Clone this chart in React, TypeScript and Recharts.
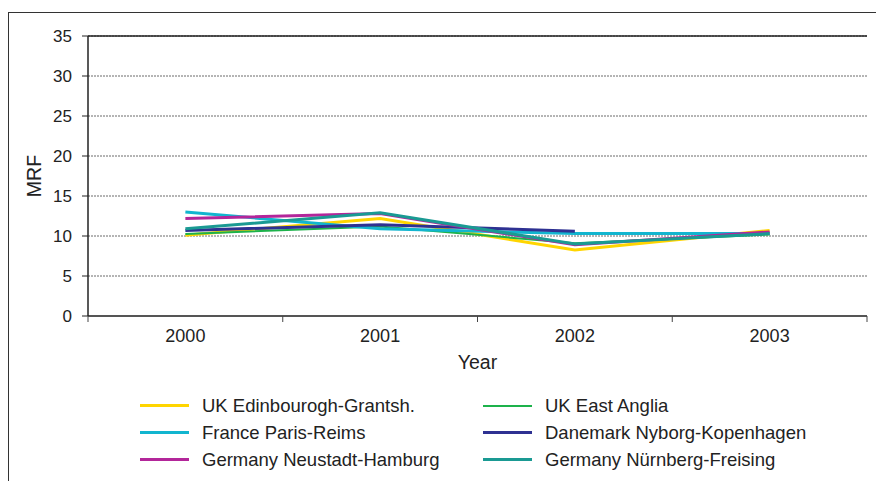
import React from 'react';
import { LineChart, Line, XAxis, YAxis, CartesianGrid, Legend, ReferenceLine } from 'recharts';

const years = ['2000', '2001', '2002', '2003'];
const ukEdinburgh = [10.1, 12.2, 8.25, 10.7];
const ukEastAnglia = [10.25, 11.2, 9.1, 10.2];
const franceParis = [13.0, 10.9, 10.3, 10.3];
const danemark = [10.7, 11.4, 10.6, null];
const germanyNeustadt = [12.2, 12.8, 8.9, 10.5];
const germanyNurnberg = [10.9, 12.9, 9.0, 10.3];
const yTicks = [0, 5, 10, 15, 20, 25, 30, 35];

const series = [
    { key: 'edi', name: 'UK Edinbourogh-Grantsh.', color: '#ffd500', width: 3, values: ukEdinburgh },
    { key: 'ea', name: 'UK East Anglia', color: '#1db24b', width: 2, values: ukEastAnglia },
    { key: 'fr', name: 'France Paris-Reims', color: '#12b5cf', width: 3, values: franceParis },
    { key: 'dk', name: 'Danemark Nyborg-Kopenhagen', color: '#2e3192', width: 3, values: danemark },
    { key: 'gn', name: 'Germany Neustadt-Hamburg', color: '#b3269a', width: 3, values: germanyNeustadt },
    { key: 'gf', name: 'Germany Nürnberg-Freising', color: '#1a9a93', width: 3, values: germanyNurnberg },
];

const data = years.map((year, i) => {
    const row: any = { year };
    series.forEach((s) => { row[s.key] = s.values[i]; });
    return row;
});

const FONT = 'Arial, "Liberation Sans", Helvetica, sans-serif';
const TICK_SIZE = 6;
const TICK_MARGIN = 7;

const LegendGrid = () => (
    <div style={{ display: 'grid', gridTemplateColumns: '343px 360px', fontFamily: FONT, fontSize: 18.5, color: '#222' }}>
        {series.map((s) => (
            <div key={s.key} style={{ display: 'flex', alignItems: 'center', height: 27 }}>
                <div style={{ width: 49, height: s.width, background: s.color, marginRight: 13, flexShrink: 0 }} />
                <span style={{ whiteSpace: 'nowrap' }}>{s.name}</span>
            </div>
        ))}
    </div>
);

// year label plus the tick marks on the category boundaries
const YearTick = (props: any) => {
    const { x, y, payload, index } = props;
    const half = payload.offset || 0;
    const axisY = y - TICK_SIZE - TICK_MARGIN;
    return (
        <g>
            <line x1={x - half} x2={x - half} y1={axisY} y2={axisY + TICK_SIZE} stroke="#444" />
            {index === years.length - 1 && (
                <line x1={x + half} x2={x + half} y1={axisY} y2={axisY + TICK_SIZE} stroke="#444" />
            )}
            <text x={x} y={y} dy="0.71em" textAnchor="middle" fontSize={18} fill="#222" fontFamily={FONT}>
                {payload.value}
            </text>
        </g>
    );
};

const YLabel = (props: any) => {
    const vb = props.viewBox;
    const cx = vb.x + 34;
    const cy = vb.y + vb.height / 2;
    return (
        <text x={cx} y={cy} transform={`rotate(-90 ${cx} ${cy})`} textAnchor="middle" dominantBaseline="central" fontSize={19.5} fill="#222" fontFamily={FONT}>
            MRF
        </text>
    );
};

const XLabel = (props: any) => {
    const vb = props.viewBox;
    return (
        <text x={vb.x + vb.width / 2} y={vb.y + 53} textAnchor="middle" fontSize={19.5} fill="#222" fontFamily={FONT}>
            Year
        </text>
    );
};

export default function App() {
    return (
        <div style={{ position: 'absolute', left: 0, top: 0, width: 876, height: 481, fontFamily: FONT }}>
            <div style={{ position: 'absolute', left: 8, top: 12, width: 868, height: 469, borderTop: '1.5px solid #333', borderLeft: '1.5px solid #333' }} />
            <LineChart
                width={876}
                height={481}
                data={data}
                margin={{ top: 36, right: 9, left: 0, bottom: 0 }}
                style={{ fontFamily: FONT }}
            >
                <CartesianGrid vertical={false} stroke="#444" strokeDasharray="2 1" strokeWidth={0.8} />
                <XAxis
                    dataKey="year"
                    scale="band"
                    height={165}
                    tickLine={false}
                    tickSize={TICK_SIZE}
                    tickMargin={TICK_MARGIN}
                    axisLine={{ stroke: '#555', strokeWidth: 2 }}
                    tick={<YearTick />}
                    interval={0}
                    label={<XLabel />}
                />
                <YAxis
                    width={88}
                    domain={[0, 35]}
                    ticks={yTicks}
                    interval={0}
                    tickSize={6}
                    tickMargin={10}
                    tickLine={{ stroke: '#222' }}
                    axisLine={{ stroke: '#222', strokeWidth: 1.5 }}
                    tick={{ fill: '#222', fontSize: 17, fontFamily: FONT }}
                    label={<YLabel />}
                />
                <YAxis
                    yAxisId="frame"
                    orientation="right"
                    width={0}
                    domain={[0, 35]}
                    tick={false}
                    tickLine={false}
                    axisLine={{ stroke: '#777', strokeWidth: 2 }}
                />
                <ReferenceLine y={35} stroke="#222" strokeWidth={1.5} />
                {series.map((s) => (
                    <Line
                        key={s.key}
                        type="linear"
                        dataKey={s.key}
                        name={s.name}
                        stroke={s.color}
                        strokeWidth={s.width}
                        dot={false}
                        activeDot={false}
                        isAnimationActive={false}
                    />
                ))}
                <Legend
                    layout="vertical"
                    align="center"
                    verticalAlign="middle"
                    wrapperStyle={{ top: 392, left: 140, width: 720 }}
                    content={<LegendGrid />}
                />
            </LineChart>
        </div>
    );
}
